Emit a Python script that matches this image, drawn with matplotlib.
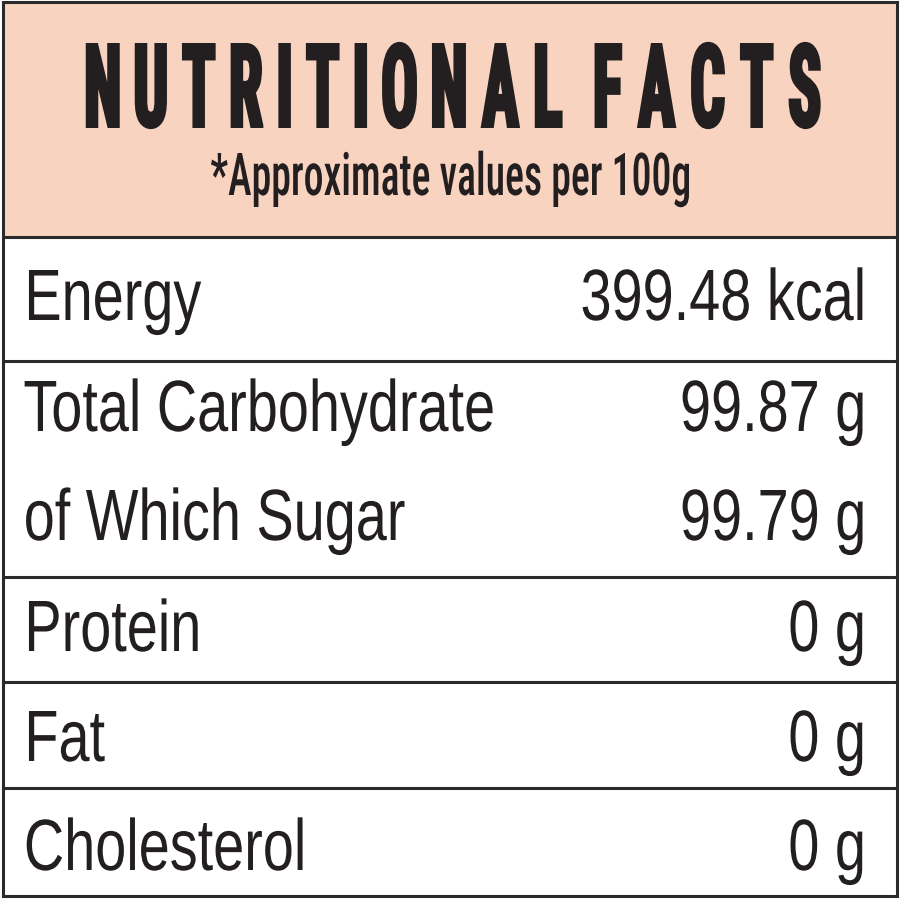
import numpy as np
import matplotlib
matplotlib.use("Agg")
import matplotlib.pyplot as plt
from matplotlib import font_manager
from matplotlib.font_manager import FontProperties
from matplotlib.patheffects import AbstractPathEffect
from matplotlib.path import Path
from matplotlib.patches import Rectangle
from matplotlib.textpath import TextPath

# ---------------- data ----------------
TITLE = "NUTRITIONAL FACTS"
SUBTITLE = "*Approximate values per 100g"
nutrients = ["Energy", "Total Carbohydrate", "of Which Sugar", "Protein", "Fat", "Cholesterol"]
amounts = ["399.48 kcal", "99.87 g", "99.79 g", "0 g", "0 g", "0 g"]

# ---------------- style / layout (pixels) ----------------
HEADER_BG = "#f8d3c0"
TEXT_COLOR = "#231f20"
LINE_COLOR = "#2a2a2a"
LINE_W_PT = 2.2
BOX = (3, 2, 897, 896)             # left, top, right, bottom
CELL_EDGES = [237, 361, 577, 682, 788, 896]
ROW_BASELINES = [320, 431, 540, 651, 761, 870]
LABEL_X = 23
VALUE_X = 867
BODY_CAP = 50
BODY_REF_WIDTH = 468               # ink width of "Total Carbohydrate"
TITLE_CAP = 85
TITLE_CX = 452.5
TITLE_BASE = 128
TITLE_W = 735
TITLE_GAP = 15
TITLE_WORD_GAP = 32
TITLE_STROKE_PX = 3.8
TITLE_LAYOUT_W = 820               # nominal (unstretched) width of the title text
SUB_CAP = 42
SUB_CX = 451
SUB_BASE = 195
SUB_W = 478

avail = {f.name for f in font_manager.fontManager.ttflist}


def pick(cands):
    for c in cands:
        if c in avail:
            return c
    return "DejaVu Sans"


BODY_FONT = pick(["Liberation Sans Narrow", "Liberation Sans", "Arial", "DejaVu Sans"])
TITLE_FONT = pick(["Roboto Condensed", "Roboto", "Inter", "Liberation Sans", "DejaVu Sans"])


class Squeeze(AbstractPathEffect):
    """Horizontally condense glyph outlines (optionally with letter tracking)."""

    def __init__(self, anchor="center", sx=1.0, sy=1.0, width=None, gap=None,
                 word_gap=None, breaks=None, stroke=0.0):
        super().__init__()
        self.anchor = anchor
        self.sx = sx
        self.sy = sy
        self.width = width
        self.gap = gap
        self.word_gap = word_gap
        self.breaks = breaks
        self.stroke = stroke

    def draw_path(self, renderer, gc, tpath, affine, rgbFace=None):
        verts = np.array(tpath.vertices, dtype=float)
        codes = tpath.codes
        if codes is None:
            codes = np.full(len(verts), Path.LINETO, dtype=Path.code_type)
            codes[0] = Path.MOVETO
        codes = np.asarray(codes)
        ink = (codes != Path.CLOSEPOLY) & (codes != Path.STOP)
        if not ink.any():
            renderer.draw_path(gc, tpath, affine, rgbFace)
            return
        u = affine.transform_point((1.0, 0.0))[0] - affine.transform_point((0.0, 0.0))[0]
        x = verts[:, 0].copy()
        xmin, xmax = x[ink].min(), x[ink].max()
        if self.gap is None:
            sx = self.width / ((xmax - xmin) * u) if self.width else self.sx
            a = {"left": xmin, "right": xmax}.get(self.anchor, 0.5 * (xmin + xmax))
            verts[:, 0] = a + (x - a) * sx
        else:
            starts = list(np.flatnonzero(codes == Path.MOVETO)) + [len(codes)]
            contours = []
            for s, e in zip(starts[:-1], starts[1:]):
                idx = np.arange(s, e)
                cl = idx[codes[idx] == Path.CLOSEPOLY]
                m = idx[ink[idx]]
                if len(m) == 0:
                    continue
                key = round(float(x[cl[0]]), 3) if len(cl) else None
                contours.append([idx, key, x[m].min(), x[m].max()])
            groups = []
            if all(c[1] is not None for c in contours):
                d = {}
                for c in contours:
                    d.setdefault(c[1], []).append(c)
                for k, cs in d.items():
                    groups.append([np.concatenate([c[0] for c in cs]),
                                   min(c[2] for c in cs), max(c[3] for c in cs)])
            else:
                for c in sorted(contours, key=lambda c: c[2]):
                    if groups and c[2] < groups[-1][2]:
                        g = groups[-1]
                        g[0] = np.concatenate([g[0], c[0]])
                        g[2] = max(g[2], c[3])
                    else:
                        groups.append([c[0], c[2], c[3]])
            groups.sort(key=lambda g: g[1])
            if self.breaks is not None and len(self.breaks) == len(groups) - 1:
                breaks = list(self.breaks)
            else:
                breaks = [groups[i + 1][1] - groups[i][2] > 22 for i in range(len(groups) - 1)]
            nw = sum(breaks)
            ng = len(breaks) - nw
            glyph_sum = sum(g[2] - g[1] for g in groups)
            k = (self.width / u - ng * self.gap / u - nw * self.word_gap / u) / glyph_sum
            cur = 0.0
            newx = x.copy()
            for i, g in enumerate(groups):
                newx[g[0]] = cur + (x[g[0]] - g[1]) * k
                cur += (g[2] - g[1]) * k
                if i < len(breaks):
                    cur += (self.word_gap if breaks[i] else self.gap) / u
            newx += 0.5 * (xmin + xmax) - 0.5 * cur
            verts[:, 0] = newx
        verts[:, 1] = verts[:, 1] * self.sy
        path = Path(verts, codes)
        if self.stroke > 0:
            gc0 = renderer.new_gc()
            gc0.copy_properties(gc)
            gc0.set_linewidth(self.stroke)
            gc0.set_foreground(rgbFace)
            gc0.set_joinstyle("miter")
            renderer.draw_path(gc0, path, affine, rgbFace)
            gc0.restore()
        else:
            renderer.draw_path(gc, path, affine, rgbFace)


def cap_em(fp):
    return TextPath((0, 0), "H", size=100, prop=fp).get_extents().height / 100.0


def width_em(s, fp):
    return TextPath((0, 0), s, size=100, prop=fp).get_extents().width / 100.0


PX2PT = 72.0 / 100.0

body_fp = FontProperties(family=BODY_FONT, weight="normal")
body_px = BODY_CAP / cap_em(body_fp)
body_sx = BODY_REF_WIDTH / (width_em(nutrients[1], body_fp) * body_px)

title_fp = FontProperties(family=TITLE_FONT, weight="bold")
title_px = TITLE_LAYOUT_W / width_em(TITLE, title_fp)
title_sy = (TITLE_CAP - TITLE_STROKE_PX) / (cap_em(title_fp) * title_px)
pos = [i for i, c in enumerate(TITLE) if not c.isspace()]
title_breaks = [TITLE[p + 1].isspace() for p in pos[:-1]]

SUB_WEIGHT = "medium"
sub_fp = FontProperties(family=TITLE_FONT, weight=SUB_WEIGHT)
sub_px = SUB_CAP / cap_em(sub_fp)

# ---------------- figure ----------------
fig = plt.figure(figsize=(9, 9), dpi=100)
fig.patch.set_facecolor("white")
ax = fig.add_axes([0, 0, 1, 1])
ax.set_xlim(0, 900)
ax.set_ylim(900, 0)
ax.axis("off")

L, T, R, B = BOX
ax.add_patch(Rectangle((L, T), R - L, CELL_EDGES[0] - T, facecolor=HEADER_BG, edgecolor="none", zorder=1))
ax.add_patch(Rectangle((L, T), R - L, B - T, facecolor="none", edgecolor=LINE_COLOR,
                       linewidth=LINE_W_PT, zorder=3))
ax.hlines(CELL_EDGES[:-1], L, R, colors=LINE_COLOR, linewidth=LINE_W_PT, zorder=3)

t = ax.text(TITLE_CX, TITLE_BASE - TITLE_STROKE_PX / 2, TITLE, ha="center", va="baseline",
            fontfamily=[TITLE_FONT, "DejaVu Sans"], fontweight="bold",
            fontsize=title_px * PX2PT, color=TEXT_COLOR, zorder=4)
t.set_path_effects([Squeeze(anchor="center", sy=title_sy, width=TITLE_W - TITLE_STROKE_PX,
                            gap=TITLE_GAP + TITLE_STROKE_PX,
                            word_gap=TITLE_WORD_GAP + TITLE_STROKE_PX,
                            breaks=title_breaks,
                            stroke=TITLE_STROKE_PX * PX2PT)])

s = ax.text(SUB_CX, SUB_BASE, SUBTITLE, ha="center", va="baseline",
            fontfamily=[TITLE_FONT, "DejaVu Sans"], fontweight=SUB_WEIGHT,
            fontsize=sub_px * PX2PT, color=TEXT_COLOR, zorder=4)
s.set_path_effects([Squeeze(anchor="center", width=SUB_W)])

for i, (name, amt) in enumerate(zip(nutrients, amounts)):
    y = ROW_BASELINES[i]
    a = ax.text(LABEL_X, y, name, ha="left", va="baseline",
                fontfamily=[BODY_FONT, "DejaVu Sans"], fontsize=body_px * PX2PT,
                color=TEXT_COLOR, zorder=4)
    a.set_path_effects([Squeeze(anchor="left", sx=body_sx)])
    b = ax.text(VALUE_X, y, amt, ha="right", va="baseline",
                fontfamily=[BODY_FONT, "DejaVu Sans"], fontsize=body_px * PX2PT,
                color=TEXT_COLOR, zorder=4)
    b.set_path_effects([Squeeze(anchor="right", sx=body_sx)])

fig.savefig("out.png", dpi=100, facecolor="white")
